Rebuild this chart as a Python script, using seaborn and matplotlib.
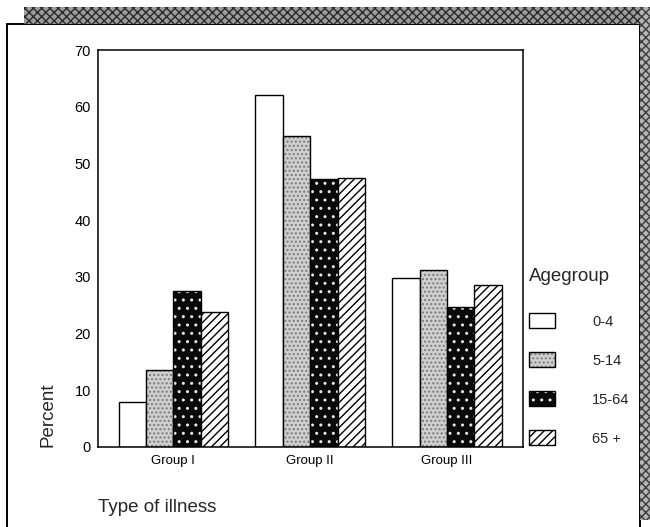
import pandas as pd
import seaborn as sns
import matplotlib.pyplot as plt
from matplotlib.patches import Rectangle

# ================================
# Datos
# ================================
illness = ["Group I", "Group II", "Group III"]
agegroups = ["0-4", "5-14", "15-64", "65 +"]
pct_0_4 = [8.0, 62.0, 29.8]
pct_5_14 = [13.6, 54.8, 31.2]
pct_15_64 = [27.5, 47.2, 24.7]
pct_65 = [23.8, 47.5, 28.5]

df = pd.DataFrame({
    "Type of illness": illness * 4,
    "Agegroup": [a for a in agegroups for _ in illness],
    "Percent": pct_0_4 + pct_5_14 + pct_15_64 + pct_65,
})

sns.set_style("white")
plt.rcParams["font.family"] = ["Liberation Sans", "DejaVu Sans"]
plt.rcParams["hatch.linewidth"] = 1.0

fig = plt.figure(figsize=(6.5, 5.27), dpi=100)
ax = fig.add_axes([98 / 650, 1 - 447 / 527, 425 / 650, 397 / 527])

sns.barplot(data=df, x="Type of illness", y="Percent", hue="Agegroup",
            hue_order=agegroups, order=illness, width=0.8,
            legend=False, ax=ax)

# estilo de cada grupo de edad (blanco, punteado gris, negro moteado, rayado)
styles = [
    dict(fc="white", hatch=None, hc="black"),
    dict(fc="#cfcfcf", hatch="....", hc="#7a7a7a"),
    dict(fc="#0a0a0a", hatch="..", hc="#e8e8e8"),
    dict(fc="white", hatch="////", hc="black"),
]
for cont, st in zip(ax.containers, styles):
    for bar in cont:
        bar.set_facecolor(st["fc"])
        bar.set_edgecolor("black")
        bar.set_linewidth(1.0)
        if st["hatch"]:
            bar.set_hatch(st["hatch"])
            bar._hatch_color = plt.matplotlib.colors.to_rgba(st["hc"])

ax.set_ylim(0, 70)
ax.set_xlim(-0.55, 2.555)
ax.set_yticks(range(0, 71, 10))

for s in ax.spines.values():
    s.set_visible(True)
    s.set_color("black")
    s.set_linewidth(1.1)

ax.tick_params(axis="both", direction="out", length=3, width=1.3,
               colors="black")
ax.tick_params(axis="y", labelsize=10.5, pad=2)
ax.tick_params(axis="x", labelsize=9.5, pad=3)

ax.set_ylabel("Percent", fontsize=13.5, loc="bottom", labelpad=13)
ax.set_xlabel("Type of illness", fontsize=13.5, loc="left", labelpad=23)

leg = ax.legend(ax.containers, agegroups, title="Agegroup",
                loc="upper left", bbox_to_anchor=(522 / 650, 1 - 261 / 527),
                bbox_transform=fig.transFigure, frameon=False,
                fontsize=10.5, title_fontsize=13.5, alignment="left",
                borderpad=0, handlelength=1.75, handleheight=1.25,
                handletextpad=2.55, labelspacing=1.6)
leg._legend_box.sep = 20

# marco exterior y borde gris del escaneo
fig.patches.append(Rectangle((7 / 650, -0.02), 633 / 650, (527 - 24) / 527 + 0.02,
                             transform=fig.transFigure, fill=False,
                             edgecolor="black", linewidth=1.4))
fig.patches.append(Rectangle((24 / 650, 1 - 24 / 527), 626 / 650, 17 / 527,
                             transform=fig.transFigure, facecolor="#9c9c9c",
                             edgecolor="#2a2a2a", hatch="xxxx", linewidth=0))
fig.patches.append(Rectangle((640 / 650, 1 - 520 / 527), 10 / 650, (520 - 7) / 527,
                             transform=fig.transFigure, facecolor="#b4b4b4",
                             edgecolor="#3a3a3a", hatch="xxxx", linewidth=0))

fig.savefig("out.png", dpi=100)
